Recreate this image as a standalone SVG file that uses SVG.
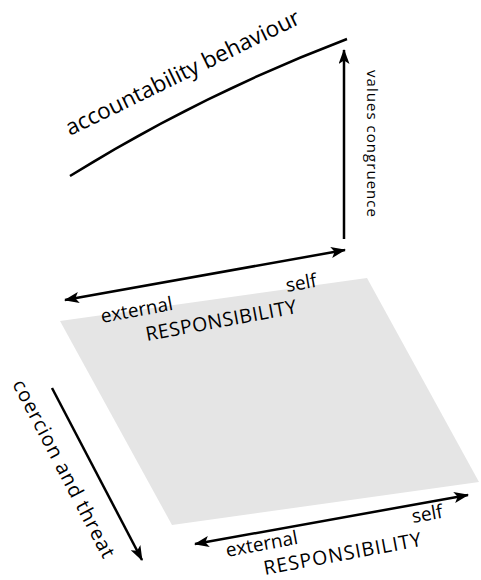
<svg xmlns="http://www.w3.org/2000/svg" width="481" height="580" viewBox="0 0 481 580">
<defs>
<marker id="ah" viewBox="0 0 15 11" refX="14" refY="5.5" markerWidth="15" markerHeight="11" markerUnits="userSpaceOnUse" orient="auto-start-reverse">
<path d="M0,0 L15,5.5 L0,11 L3.5,5.5 Z" fill="#000"/>
</marker>
<style>
.t{font-family:"Open Sans","Liberation Sans",sans-serif;fill:#000}
.ln{stroke:#000;stroke-width:2.5;fill:none}
</style>
</defs>
<rect width="481" height="580" fill="#fff"/>
<g id="plane">
<polygon points="60,321 367,278 479,482 172,525" fill="#e5e5e5"/>
</g>
<g id="connectors">
<path class="ln" d="M70,176 Q200,95 347,39"/>
<line class="ln" x1="344" y1="239" x2="344" y2="50" marker-end="url(#ah)"/>
<line class="ln" x1="65" y1="300" x2="345" y2="250" marker-start="url(#ah)" marker-end="url(#ah)"/>
<line class="ln" x1="52" y1="388" x2="142" y2="560" marker-end="url(#ah)"/>
<line class="ln" x1="195" y1="544" x2="468" y2="495" marker-start="url(#ah)" marker-end="url(#ah)"/>
</g>
<g id="label-accountability">
<text class="t" font-size="22.5" transform="translate(70,136) rotate(-26)" textLength="258">accountability behaviour</text>
</g>
<g id="label-values">
<text class="t" font-size="15" transform="translate(367,70) rotate(90)" textLength="147">values congruence</text>
</g>
<g id="label-top-resp">
<text class="t" font-size="19" transform="translate(287,292) rotate(-10)">self</text>
<text class="t" font-size="19" transform="translate(102,323) rotate(-10.5)">external</text>
<text class="t" font-size="19.5" transform="translate(147,341) rotate(-10.5)" textLength="153">RESPONSIBILITY</text>
</g>
<g id="label-coercion">
<text class="t" font-size="20" transform="translate(12,384) rotate(62.5)" textLength="198">coercion and threat</text>
</g>
<g id="label-bottom-resp">
<text class="t" font-size="19" transform="translate(413,523) rotate(-10)">self</text>
<text class="t" font-size="19" transform="translate(227,557) rotate(-10.5)">external</text>
<text class="t" font-size="19.5" transform="translate(265,575) rotate(-10.5)" textLength="160">RESPONSIBILITY</text>
</g>
</svg>
